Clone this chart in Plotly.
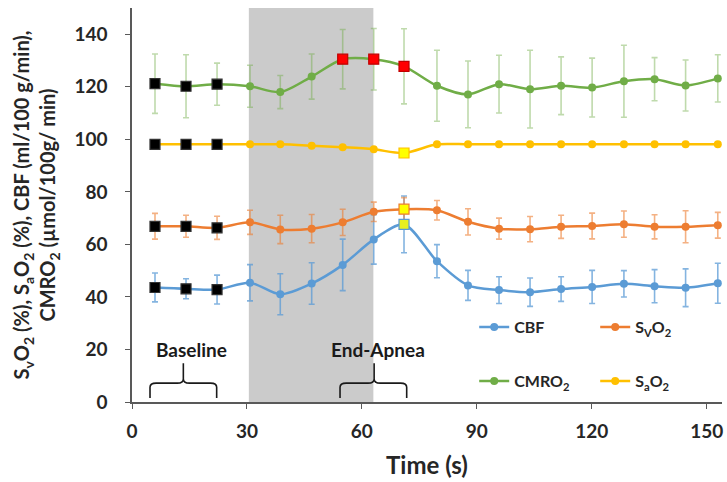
import plotly.graph_objects as go

# time points (s) and group means / SD
time_s = [6, 14.1, 22.2, 30.8, 38.7, 46.9, 55.0, 63.1, 71.0, 79.6, 87.7, 95.8,
          103.9, 112.0, 120.1, 128.4, 136.4, 144.5, 152.9]

cbf = [43.6, 43.1, 42.8, 45.4, 41.0, 45.1, 52.2, 61.9, 67.6, 53.6, 44.4, 42.6,
       41.8, 43.0, 43.8, 45.0, 44.1, 43.5, 45.2]
cbf_err = [5.5, 3.8, 5.5, 6.9, 7.8, 7.9, 9.8, 9.4, 10.8, 6.3, 5.7, 5.1,
           5.4, 4.7, 6.3, 5.0, 6.3, 7.2, 7.6]

svo2 = [66.9, 66.9, 66.3, 68.4, 65.7, 66.0, 68.4, 72.4, 73.4, 73.0, 68.6, 66.0,
        65.8, 66.7, 67.0, 67.7, 66.7, 66.7, 67.3]
svo2_err = [4.9, 4.2, 4.4, 4.6, 5.4, 5.4, 5.0, 3.7, 4.4, 3.7, 5.0, 4.0,
            4.8, 4.4, 4.9, 5.0, 4.6, 6.1, 4.9]

cmro2 = [121.2, 120.2, 121.0, 120.2, 118.0, 123.9, 130.5, 130.5, 127.8, 120.4,
         117.1, 121.0, 119.1, 120.4, 119.7, 122.1, 122.9, 120.5, 123.2]
cmro2_err = [11.3, 12.0, 8.0, 8.0, 6.3, 8.6, 11.3, 11.7, 14.3, 13.5, 12.7, 11.0,
             14.8, 11.0, 11.2, 13.7, 8.2, 9.7, 9.0]

sao2 = [98.1, 98.1, 98.1, 98.1, 98.1, 97.6, 97.0, 96.2, 94.8, 98.1, 98.1, 98.1,
        98.1, 98.1, 98.1, 98.1, 98.1, 98.1, 98.1]

baseline_idx = [0, 1, 2]
red_idx = [6, 7, 8]        # CMRO2 significant points
end_apnea_idx = [8]        # highlighted end-apnea points

apnea_window = [30.5, 63]
baseline_span = [4.7, 22.1]
end_apnea_span = [54.3, 71.7, 63.2]

BLUE = "#5B9BD5"
ORANGE = "#ED7D31"
GREEN = "#70AD47"
YELLOW = "#FFC000"
FONT = "Lato"

fig = go.Figure()

# shaded apnea period
fig.add_shape(type="rect", xref="x", yref="y", x0=apnea_window[0], x1=apnea_window[1],
              y0=0, y1=150, fillcolor="#CBCBCB", line_width=0, layer="below")


def add_series(name, y, err, color, err_color, legend):
    err_y = None
    if err is not None:
        err_y = dict(type="data", array=err, visible=True, color=err_color,
                     thickness=1.6, width=3)
    fig.add_trace(go.Scatter(
        x=time_s, y=y, name=name, mode="lines+markers", legend=legend,
        line=dict(color=color, width=2.5, shape="spline", smoothing=0.8),
        marker=dict(symbol="circle", size=8, color=color),
        error_y=err_y,
    ))


add_series("CBF", cbf, cbf_err, BLUE, "rgba(91,155,213,0.75)", "legend")
add_series("S<sub>V</sub>O<sub>2</sub>", svo2, svo2_err, ORANGE, "rgba(237,125,49,0.6)", "legend")
add_series("CMRO<sub>2</sub>", cmro2, cmro2_err, GREEN, "rgba(112,173,71,0.45)", "legend2")
add_series("S<sub>a</sub>O<sub>2</sub>", sao2, None, YELLOW, None, "legend2")


def add_points(idx, y, fill, edge, size=10):
    fig.add_trace(go.Scatter(
        x=[time_s[i] for i in idx], y=[y[i] for i in idx], mode="markers",
        showlegend=False, hoverinfo="skip",
        marker=dict(symbol="square", size=size, color=fill, line=dict(color=edge, width=1.2)),
    ))


for series in (cbf, svo2, cmro2, sao2):
    add_points(baseline_idx, series, "black", "#333333")
add_points(red_idx, cmro2, "#FF0000", "#C00000")
add_points(end_apnea_idx, sao2, "#FFFF00", YELLOW)
add_points(end_apnea_idx, svo2, "#FFFF00", ORANGE)
add_points(end_apnea_idx, cbf, "#E6F020", BLUE)


def brace(x1, x2, xm, yb=1.5, yt=7.2, ytip=14.8, r=1.6, ry=1.6):
    return (f"M {x1},{yb} L {x1},{yt - ry} Q {x1},{yt} {x1 + r},{yt} "
            f"L {xm - r},{yt} Q {xm},{yt} {xm},{yt + ry} L {xm},{ytip} "
            f"M {xm},{yt + ry} Q {xm},{yt} {xm + r},{yt} "
            f"L {x2 - r},{yt} Q {x2},{yt} {x2},{yt - ry} L {x2},{yb}")


bl_mid = (baseline_span[0] + baseline_span[1]) / 2
fig.add_shape(type="path", xref="x", yref="y",
              path=brace(baseline_span[0], baseline_span[1], bl_mid),
              line=dict(color="#1a1a1a", width=1.6))
fig.add_shape(type="path", xref="x", yref="y",
              path=brace(end_apnea_span[0], end_apnea_span[1], end_apnea_span[2]),
              line=dict(color="#1a1a1a", width=1.6))

fig.add_annotation(x=15.6, y=20, text="<b>Baseline</b>", showarrow=False,
                   font=dict(family=FONT, size=19, color="#1a1a1a"))
fig.add_annotation(x=64.2, y=20, text="<b>End-Apnea</b>", showarrow=False,
                   font=dict(family=FONT, size=19, color="#1a1a1a"))

tick_font = dict(family=FONT, size=19, color="#262626", weight="bold")
legend_font = dict(family=FONT, size=16, color="#262626", weight="bold")

fig.update_layout(
    width=727, height=482,
    margin=dict(l=132, r=5, t=8, b=80, autoexpand=False),
    plot_bgcolor="white", paper_bgcolor="white",
    xaxis=dict(range=[0, 154], tickvals=[0, 30, 60, 90, 120, 150],
               showline=True, linecolor="#595959", linewidth=1.5,
               ticks="outside", ticklen=5, tickcolor="#595959", ticklabelstandoff=6,
               showgrid=False, zeroline=False, tickfont=tick_font, automargin=False,
               title=dict(text="<b>Time (s)</b>", standoff=17,
                          font=dict(family=FONT, size=24, color="#262626"))),
    yaxis=dict(range=[0, 150], tickvals=[0, 20, 40, 60, 80, 100, 120, 140],
               showline=True, linecolor="#595959", linewidth=1.5,
               ticks="outside", ticklen=5, tickcolor="#595959", ticklabelstandoff=14,
               showgrid=False, zeroline=False, tickfont=tick_font, automargin=False,
               title=dict(text="<b>S<sub>v</sub>O<sub>2</sub> (%), S<sub>a</sub>O<sub>2</sub> (%), CBF (ml/100 g/min),<br>CMRO<sub>2</sub> (µmol/100g/ min)</b>",
                          font=dict(family=FONT, size=20, color="#262626"), standoff=13)),
    legend=dict(orientation="h", x=0.58, y=0.19, xanchor="left", yanchor="middle",
                entrywidth=76, font=legend_font, bgcolor="rgba(0,0,0,0)"),
    legend2=dict(orientation="h", x=0.58, y=0.053, xanchor="left", yanchor="middle",
                 entrywidth=76, font=legend_font, bgcolor="rgba(0,0,0,0)"),
)

# drop the page's default body margin so the 727x482 figure fills the window
fig.write_html("out.html", config={"displayModeBar": False},
               post_script="document.body.style.margin = '0';")
